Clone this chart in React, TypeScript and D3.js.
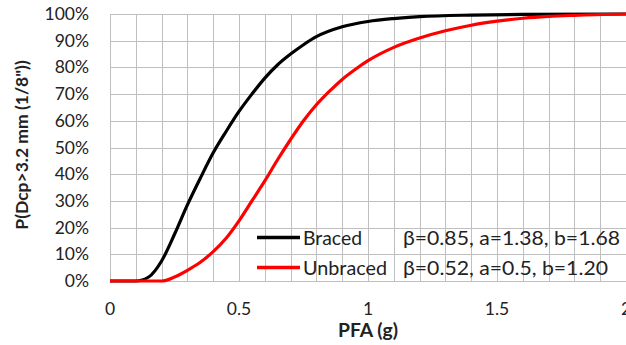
import React from "react";
import * as d3 from "d3";

const W = 626;
const H = 345;
const margin = { top: 14, right: 0, bottom: 64, left: 110 };

// PFA (g) vs probability (%)
const bracedX = [0, 0.1, 0.15, 0.2, 0.25, 0.3, 0.35, 0.4, 0.45, 0.5, 0.55, 0.6, 0.65, 0.7, 0.75, 0.8, 0.9, 1.0, 1.1, 1.2, 1.4, 1.6, 2.0];
const bracedP = [0, 0, 1.5, 7.5, 17.5, 28.5, 38.5, 48, 56, 63.5, 70, 76, 81, 85, 88.5, 91.5, 95.2, 97.2, 98.3, 99, 99.6, 99.85, 100];

const unbracedX = [0, 0.2, 0.25, 0.3, 0.35, 0.4, 0.45, 0.5, 0.55, 0.6, 0.65, 0.7, 0.75, 0.8, 0.85, 0.9, 0.95, 1.0, 1.1, 1.2, 1.3, 1.4, 1.5, 1.6, 1.7, 1.8, 2.0];
const unbracedP = [0, 0, 1.5, 4, 7, 11, 16, 22.5, 30, 37.5, 45.5, 53, 60, 66, 71, 75.5, 79.2, 82.5, 87.5, 91, 93.7, 95.8, 97.3, 98.4, 99.1, 99.5, 100];

const xTicks = [0, 0.5, 1, 1.5, 2];
const yTicks = [0, 10, 20, 30, 40, 50, 60, 70, 80, 90, 100];

const seriesNames = ["Braced", "Unbraced"];
const seriesParams = ["β=0.85, a=1.38, b=1.68", "β=0.52, a=0.5, b=1.20"];
const seriesColors = ["#000000", "#ff0000"];

const font = "Lato, 'Open Sans', sans-serif";

export default function App() {
  const x = d3.scaleLinear().domain([0, 2]).range([margin.left, W - margin.right]);
  const y = d3.scaleLinear().domain([0, 100]).range([H - margin.bottom, margin.top]);

  const line = d3
    .line<[number, number]>()
    .x((d) => x(d[0]))
    .y((d) => y(d[1]))
    .curve(d3.curveMonotoneX);

  const series = [
    bracedX.map((v, i) => [v, bracedP[i]] as [number, number]),
    unbracedX.map((v, i) => [v, unbracedP[i]] as [number, number]),
  ];

  const vGrid = d3.range(0, 21).map((i) => i / 10);
  const nameLen = [59, 84];
  const paramLen = [217, 205];

  return (
    <svg
      width={W}
      height={H}
      style={{ position: "absolute", left: 0, top: 0, background: "#fff" }}
      fontFamily={font}
    >
      <g stroke="#bfbfbf" strokeWidth={1}>
        {vGrid.map((v) => (
          <line key={"v" + v} x1={Math.round(x(v)) + 0.5} x2={Math.round(x(v)) + 0.5} y1={y(0)} y2={y(100)} />
        ))}
        {yTicks.map((v) => (
          <line key={"h" + v} x1={x(0)} x2={x(2)} y1={Math.round(y(v)) + 0.5} y2={Math.round(y(v)) + 0.5} />
        ))}
      </g>

      {yTicks.map((v) => (
        <text key={"yt" + v} x={89} y={y(v) + 6} textAnchor="end" fontSize={17.5} fill="#222">
          {v + "%"}
        </text>
      ))}
      {xTicks.map((v) => (
        <text key={"xt" + v} x={x(v)} y={315} textAnchor="middle" fontSize={17.5} fill="#222">
          {v}
        </text>
      ))}

      {series.map((s, i) => (
        <path key={"s" + i} d={line(s) || ""} fill="none" stroke={seriesColors[i]} strokeWidth={3.2} strokeLinejoin="round" />
      ))}

      {seriesNames.map((n, i) => {
        const ly = 237.5 + i * 30;
        return (
          <g key={"lg" + i}>
            <line x1={257} x2={300} y1={ly} y2={ly} stroke={seriesColors[i]} strokeWidth={3.5} />
            <text x={303} y={ly + 7} fontSize={19} fill="#222" textLength={nameLen[i]} lengthAdjust="spacingAndGlyphs">
              {n}
            </text>
            <text x={403} y={ly + 7} fontSize={19} fill="#222" textLength={paramLen[i]} lengthAdjust="spacingAndGlyphs">
              {seriesParams[i]}
            </text>
          </g>
        );
      })}

      <text x={368} y={337} textAnchor="middle" fontSize={18} fontWeight="bold" fill="#222" textLength={60} lengthAdjust="spacingAndGlyphs">
        PFA (g)
      </text>
      <text
        transform={`translate(28,145) rotate(-90)`}
        textAnchor="middle"
        fontSize={17.5}
        fontWeight="bold"
        fill="#222"
      >
        P(Dcp&gt;3.2 mm (1/8"))
      </text>
    </svg>
  );
}
